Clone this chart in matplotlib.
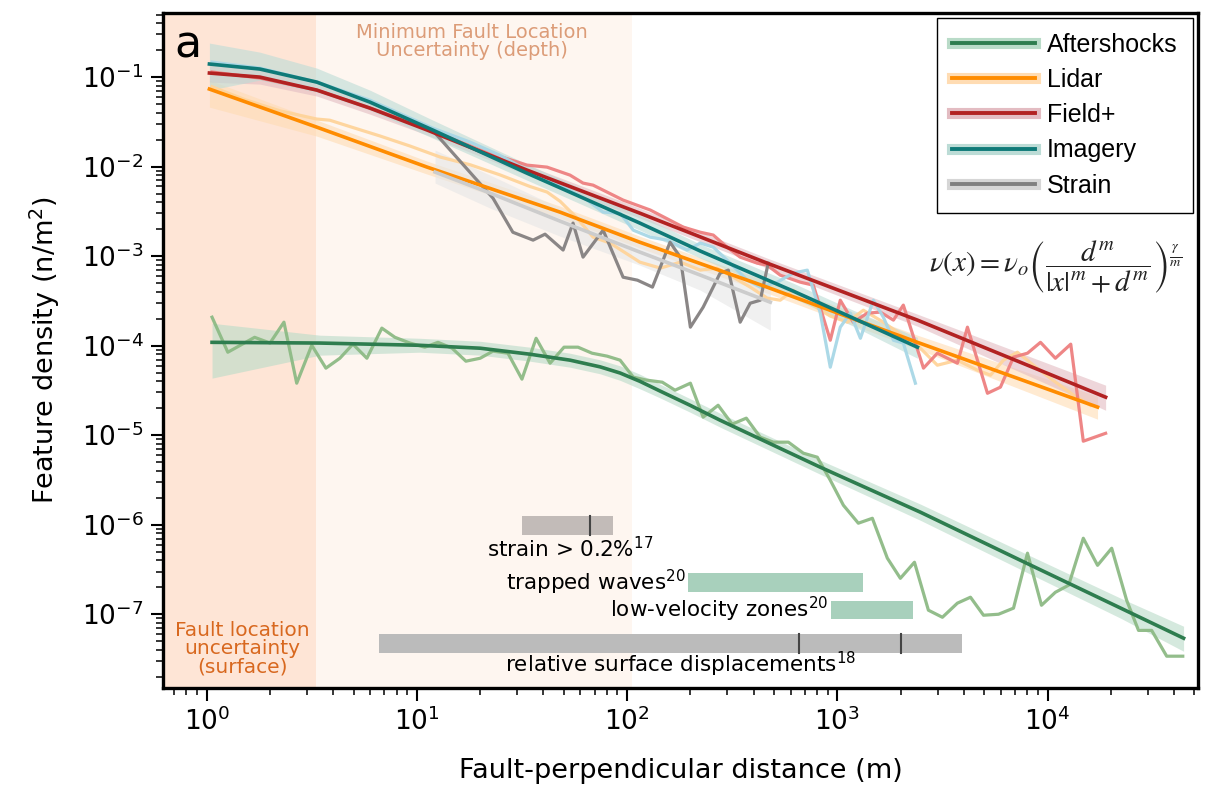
import matplotlib
import matplotlib.pyplot as plt
from matplotlib.lines import Line2D
from matplotlib.patches import Rectangle
from matplotlib.transforms import blended_transform_factory
from matplotlib.legend_handler import HandlerTuple

matplotlib.use('agg')

# ---- data ----
# Aftershocks
after_x = [1.06, 1.26, 1.69, 2.0, 2.33, 2.68, 3.16, 3.69, 4.30, 4.96, 5.78, 6.81, 7.86, 9.26, 10.9, 12.6,
           14.7, 17.1, 20.0, 23.0, 27.1, 31.6, 36.9, 43.0, 50.1, 58.4, 68.1, 80.3, 92.6, 107, 124, 147, 169,
           200, 230, 271, 316, 369, 430, 496, 585, 689, 803, 926, 1069, 1259, 1468, 1730, 1995, 2328, 2712,
           3162, 3726, 4300, 4960, 5845, 6890, 8030, 9360, 10900, 12600, 14800, 17300, 20200, 23800, 27100,
           31300, 36900, 44000]
after_y = [2.08e-4, 8.45e-5, 1.24e-4, 1.07e-4, 1.83e-4, 3.81e-5, 1.01e-4, 5.61e-5, 7.24e-5, 1.04e-4, 7.24e-5,
           1.57e-4, 1.24e-4, 1.07e-4, 9.62e-5, 1.09e-4, 9.37e-5, 6.71e-5, 7.24e-5, 8.69e-5, 8.24e-5, 4.23e-5,
           1.21e-4, 6.37e-5, 9.62e-5, 9.62e-5, 8.24e-5, 7.64e-5, 6.89e-5, 4.45e-5, 4.12e-5, 3.91e-5, 3.18e-5,
           3.81e-5, 1.59e-5, 2.16e-5, 1.33e-5, 1.55e-5, 9.5e-6, 8.36e-6, 8.36e-6, 6.3e-6, 5.68e-6, 3.14e-6,
           1.65e-6, 1.04e-6, 1.18e-6, 4.23e-7, 2.52e-7, 3.81e-7, 1.11e-7, 9.25e-8, 1.33e-7, 1.55e-7, 9.75e-8,
           1.0e-7, 1.17e-7, 4.81e-7, 1.26e-7, 1.76e-7, 2.11e-7, 7.06e-7, 3.52e-7, 5.46e-7, 1.43e-7, 6.6e-8,
           6.6e-8, 3.4e-8, 3.4e-8]
after_fit_x = [1.06, 3.45, 10.3, 20.0, 34.5, 53.5, 74.4, 92.6, 115, 144, 200, 277, 830, 2485, 7430, 22300,
               44400]
after_fit_y = [1.09e-4, 1.07e-4, 1.01e-4, 9.37e-5, 8.03e-5, 6.89e-5, 5.8e-5, 4.95e-5, 4.0e-5, 3.1e-5,
               2.15e-5, 1.47e-5, 4.39e-6, 1.38e-6, 4.01e-7, 1.17e-7, 5.4e-8]
after_lo = [4.34e-5, 7.83e-5, 8.45e-5, 7.83e-5, 6.71e-5, 5.75e-5, 4.85e-5, 4.1e-5, 3.3e-5, 2.6e-5,
            1.8e-5, 1.23e-5, 3.66e-6, 1.12e-6, 3.18e-7, 9.02e-8, 3.86e-8]
after_hi = [1.78e-4, 1.31e-4, 1.21e-4, 1.12e-4, 9.62e-5, 8.24e-5, 6.95e-5, 5.95e-5, 4.8e-5, 3.7e-5,
            2.55e-5, 1.76e-5, 5.26e-6, 1.7e-6, 5.06e-7, 1.51e-7, 7.35e-8]

# Lidar
lidar_x = [1.06, 1.52, 2.23, 3.34, 3.85, 4.80, 6.67, 9.26, 12.9, 17.9, 24.8, 34.5, 41.6, 48.0, 57.8, 68.9,
           83.0, 115, 144, 179, 223, 268, 320, 385, 464, 535, 617, 769, 926, 1117, 1330, 1656, 1995, 2405,
           2992, 3726, 4645, 5355, 6170, 7190, 8570, 10300, 13300, 16000]
lidar_y = [0.0780, 0.0560, 0.0420, 0.0340, 0.0330, 0.0280, 0.0220, 0.0170, 0.0128, 0.0105, 8.1e-3, 6.0e-3,
           5.2e-3, 4.1e-3, 2.66e-3, 1.63e-3, 1.40e-3, 8.57e-4, 7.35e-4, 8.57e-4, 6.98e-4, 7.35e-4, 5.82e-4,
           4.51e-4, 3.40e-4, 3.22e-4, 4.17e-4, 2.84e-4, 2.14e-4, 1.83e-4, 2.49e-4, 1.83e-4, 1.34e-4, 1.01e-4,
           6.05e-5, 6.89e-5, 5.32e-5, 4.68e-5, 6.89e-5, 8.45e-5, 6.05e-5, 4.33e-5, 2.80e-5, 2.16e-5]
lidar_fit_x = [1.03, 3.34, 11.2, 48.0, 115, 464, 2405, 17300]
lidar_fit_y = [0.0735, 0.0276, 9.86e-3, 3.1e-3, 1.43e-3, 4.5e-4, 1.09e-4, 2.06e-5]
lidar_lo = [0.0462, 0.0219, 8.24e-3, 2.66e-3, 1.23e-3, 3.86e-4, 9.14e-5, 1.51e-5]
lidar_hi = [0.0925, 0.0331, 0.0115, 3.62e-3, 1.67e-3, 5.26e-4, 1.31e-4, 2.73e-5]

# Field+
field_x = [1.06, 1.79, 3.34, 5.97, 11.2, 20.0, 33.4, 41.6, 53.5, 61.7, 68.9, 95.7, 129, 185, 223, 257, 299,
           345, 416, 464, 535, 667, 769, 926, 1033, 1191, 1390, 1603, 1849, 2061, 2570, 2992, 3726, 4160,
           5180, 5970, 6890, 8030, 9260, 10900, 12900, 14800, 18900]
field_y = [0.114, 0.0975, 0.0716, 0.0451, 0.0269, 0.0153, 0.0104, 9.87e-3, 8.04e-3, 6.55e-3, 6.21e-3,
           4.23e-3, 3.27e-3, 2.11e-3, 1.85e-3, 1.72e-3, 1.26e-3, 9.75e-4, 8.35e-4, 7.93e-4, 6.14e-4, 5.12e-4,
           4.74e-4, 1.15e-4, 3.22e-4, 1.83e-4, 2.31e-4, 2.37e-4, 1.93e-4, 2.84e-4, 5.61e-5, 8.24e-5, 6.37e-5,
           1.61e-4, 2.94e-5, 3.44e-5, 7.45e-5, 8.24e-5, 1.09e-4, 7.24e-5, 1.04e-4, 8.57e-6, 1.05e-5]
field_fit_x = [1.03, 1.79, 3.34, 5.97, 11.2, 33.4, 115, 464, 2405, 18900]
field_fit_y = [0.111, 0.1, 0.0716, 0.0451, 0.0256, 9.14e-3, 3.02e-3, 8.35e-4, 1.93e-4, 2.66e-5]
field_lo = [0.0879, 0.0835, 0.0614, 0.0386, 0.0225, 8.04e-3, 2.66e-3, 7.35e-4, 1.65e-4, 1.9e-5]
field_hi = [0.136, 0.120, 0.0835, 0.0526, 0.0291, 0.0104, 3.44e-3, 9.5e-4, 2.25e-4, 3.62e-5]

# Imagery
imag_x = [1.06, 1.79, 3.34, 5.97, 11.9, 17.9, 24.8, 33.4, 48.0, 64.5, 76.9, 92.6, 107, 129, 155, 193, 223,
          257, 299, 373, 430, 518, 617, 720, 830, 926, 1033, 1153, 1288, 1484, 1656, 1849, 2061, 2352]
imag_y = [0.147, 0.126, 0.0879, 0.0553, 0.0269, 0.0188, 0.0134, 9.14e-3, 6.21e-3, 4.23e-3, 3.10e-3, 3.02e-3,
          1.95e-3, 1.63e-3, 1.51e-3, 1.17e-3, 1.40e-3, 1.26e-3, 9.02e-4, 5.39e-4, 4.51e-4, 5.12e-4, 6.46e-4,
          6.98e-4, 2.31e-4, 5.75e-5, 1.61e-4, 2.31e-4, 1.21e-4, 3.22e-4, 2.08e-4, 1.15e-4, 1.07e-4, 3.81e-5]
imag_fit_x = [1.03, 1.79, 3.34, 5.97, 11.9, 33.4, 115, 223, 617, 1191, 2405]
imag_fit_y = [0.140, 0.123, 0.0879, 0.0526, 0.0256, 8.45e-3, 2.34e-3, 1.14e-3, 4.07e-4, 2.03e-4, 9.62e-5]
imag_lo = [0.0716, 0.0925, 0.0680, 0.0428, 0.0208, 7.06e-3, 1.95e-3, 9.5e-4, 3.40e-4, 1.65e-4, 7.24e-5]
imag_hi = [0.240, 0.190, 0.126, 0.0716, 0.0331, 0.0107, 2.87e-3, 1.36e-3, 4.99e-4, 2.49e-4, 1.24e-4]

# Strain
strain_x = [12.2, 23.0, 28.6, 35.7, 40.7, 49.6, 55.3, 61.7, 76.9, 95.7, 112, 132, 147, 160, 179, 200, 230,
            277, 303, 345, 385, 430, 469]
strain_y = [0.0237, 4.45e-3, 1.85e-3, 1.51e-3, 1.76e-3, 1.17e-3, 2.34e-3, 9.75e-4, 1.95e-3, 5.82e-4, 5.39e-4,
            4.51e-4, 8.57e-4, 1.43e-3, 9.75e-4, 1.61e-4, 2.69e-4, 6.46e-4, 6.98e-4, 1.83e-4, 2.98e-4, 3.22e-4,
            8.35e-4]
strain_fit_x = [12.2, 22.3, 48.0, 115, 223, 480]
strain_fit_y = [8.69e-3, 5.06e-3, 2.46e-3, 1.11e-3, 6.14e-4, 3.06e-4]
strain_lo = [6.55e-3, 3.44e-3, 1.67e-3, 7.93e-4, 4.17e-4, 1.49e-4]
strain_hi = [0.0153, 8.04e-3, 3.44e-3, 1.51e-3, 8.57e-4, 4.51e-4]

# uncertainty zones (m)
surface_uncert = 3.3
depth_uncert = 106

# literature ranges (m): (start, end, marks)
strain_range = (31.6, 85.8, [66.6])
trapped_range = (195, 1330, [])
lowvel_range = (936, 2300, [])
surfdisp_range = (6.59, 3940, [659, 2018])

series = [
    # label, raw x, raw y, fit x, fit y, lo, hi, dark, raw colour, band colour
    ('Aftershocks', after_x, after_y, after_fit_x, after_fit_y, after_lo, after_hi,
     '#2e7d4f', '#8dba85', '#b9dbc8'),
    ('Lidar', lidar_x, lidar_y, lidar_fit_x, lidar_fit_y, lidar_lo, lidar_hi,
     '#ff8c00', '#ffd49a', '#ffdcb3'),
    ('Field+', field_x, field_y, field_fit_x, field_fit_y, field_lo, field_hi,
     '#b22222', '#ee8080', '#e3bcc2'),
    ('Imagery', imag_x, imag_y, imag_fit_x, imag_fit_y, imag_lo, imag_hi,
     '#0f7a78', '#a8d7e6', '#bcdcd6'),
    ('Strain', strain_x, strain_y, strain_fit_x, strain_fit_y, strain_lo, strain_hi,
     '#cccccc', '#848080', '#e6e6e6'),
]
legend_dark = {'Strain': '#808080'}
legend_light = {'Strain': '#d6d6d6'}

fig = plt.figure(figsize=(12.17, 7.93), dpi=100)
ax = fig.add_axes([0.134, 0.1324, 0.8504, 0.8512])
ax.set_xscale('log')
ax.set_yscale('log')
ax.set_xlim(0.62, 52000)
ax.set_ylim(1.5e-8, 0.52)

ax.axvspan(0.62, surface_uncert, color='#fee5d6', lw=0, zorder=0)
ax.axvspan(surface_uncert, depth_uncert, color='#fef6f0', lw=0, zorder=0)

handles = []
for label, rx, ry, fx, fy, lo, hi, dark, rawc, bandc in series:
    ax.fill_between(fx, lo, hi, color=bandc, alpha=0.6, lw=0, zorder=1)
    ax.plot(rx, ry, color=rawc, lw=2.3, alpha=0.95, zorder=2)
for label, rx, ry, fx, fy, lo, hi, dark, rawc, bandc in series:
    ax.plot(fx, fy, color=dark, lw=2.6, zorder=3)
    light = Line2D([], [], color=legend_light.get(label, bandc), lw=8)
    thin = Line2D([], [], color=legend_dark.get(label, dark), lw=2.8)
    handles.append((light, thin))

leg = ax.legend(handles, [s[0] for s in series], handler_map={tuple: HandlerTuple(ndivide=1)},
                loc='upper right', bbox_to_anchor=(0.995, 0.993), borderaxespad=0,
                fancybox=False, framealpha=1, edgecolor='black', handlelength=3.3,
                labelspacing=0.45, handletextpad=0.5, borderpad=0.6,
                prop={'family': 'Liberation Sans', 'size': 18})
leg.get_frame().set_linewidth(1.0)
leg.set_zorder(6)

# literature bars
trans = blended_transform_factory(ax.transData, ax.transAxes)
bars = [
    (strain_range, 0.2267, 0.0281, '#c2bbb8'),
    (trapped_range, 0.142, 0.028, '#a8d0bc'),
    (lowvel_range, 0.102, 0.027, '#a8d0bc'),
    (surfdisp_range, 0.052, 0.028, '#bbbbbb'),
]
for (x0, x1, marks), yb, h, c in bars:
    ax.add_patch(Rectangle((x0, yb), x1 - x0, h, transform=trans, color=c, lw=0, zorder=4))
    for m in marks:
        ax.plot([m, m], [yb, yb + h], transform=trans, color='#444444', lw=1.5, zorder=5)

tfont = dict(family='DejaVu Sans', fontsize=15.5, color='black', zorder=5)
ax.text(53.5, 0.207, r'strain > 0.2%$^{17}$', transform=trans, ha='center', va='center', **tfont)
ax.text(191, 0.157, r'trapped waves$^{20}$', transform=trans, ha='right', va='center', **tfont)
ax.text(906, 0.117, r'low-velocity zones$^{20}$', transform=trans, ha='right', va='center', **tfont)
ax.text(179, 0.0356, r'relative surface displacements$^{18}$', transform=trans, ha='center',
        va='center', **tfont)

ax.text(1.48, 0.058, 'Fault location\nuncertainty\n(surface)', transform=trans, ha='center',
        va='center', fontsize=14.5, color='#d8681f', linespacing=0.95, zorder=5)
ax.text(18.3, 0.958, 'Minimum Fault Location\nUncertainty (depth)', transform=trans, ha='center',
        va='center', fontsize=14, color='#dc9c78', linespacing=0.95, zorder=5)

ax.text(0.024, 0.952, 'a', transform=ax.transAxes, ha='center', va='center', fontsize=32, zorder=5)

ax.text(0.862, 0.625, r'$\nu(x) = \nu_o\left(\dfrac{d^m}{|x|^m + d^m}\right)^{\frac{\gamma}{m}}$',
        transform=ax.transAxes, ha='center', va='center', fontsize=21, math_fontfamily='stix',
        color='#222222', zorder=5)

for s in ax.spines.values():
    s.set_linewidth(2.4)
ax.tick_params(which='major', length=9, width=1.5, labelsize=19, direction='out', pad=5)
ax.tick_params(which='minor', length=5, width=1.1, direction='out')
ax.set_xlabel('Fault-perpendicular distance (m)', fontsize=19.5, labelpad=16)
ax.set_ylabel('Feature density (n/m$^2$)', fontsize=19.5, labelpad=14)

fig.savefig('out.png', dpi=100)
